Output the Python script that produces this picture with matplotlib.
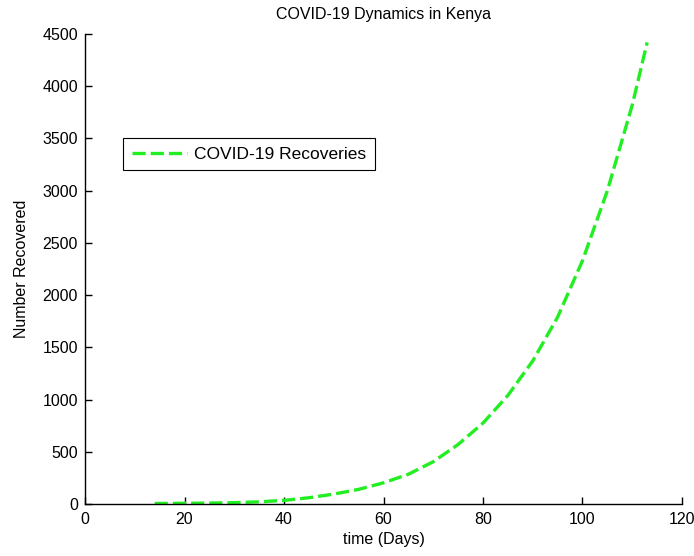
import matplotlib
matplotlib.use("Agg")
import matplotlib.pyplot as plt

# days and recovered counts
days = [14, 20, 25, 30, 35, 40, 45, 50, 55, 60, 65, 70, 75, 80, 85, 90, 95, 100, 105, 110, 113]
recovered = [5, 7, 9, 13, 21, 35, 60, 95, 140, 203, 285, 405, 570, 775, 1040, 1370, 1790,
             2330, 3000, 3820, 4420]
xticks = [0, 20, 40, 60, 80, 100, 120]
yticks = [0, 500, 1000, 1500, 2000, 2500, 3000, 3500, 4000, 4500]

plt.rcParams['font.family'] = ['Liberation Sans', 'DejaVu Sans']
plt.rcParams['lines.scale_dashes'] = False

fig = plt.figure(figsize=(6.94, 5.56), dpi=100)
ax = fig.add_axes([0.1225, 0.0935, 0.8602, 0.8453])

ax.plot(days, recovered, color='#22ee22', linewidth=2.4, dashes=(9.5, 3.6),
        label='COVID-19 Recoveries')

ax.set_xlim(0, 120)
ax.set_ylim(0, 4500)
ax.set_xticks(xticks)
ax.set_yticks(yticks)
ax.tick_params(direction='in', length=5, width=1, labelsize=11.5)
ax.tick_params(axis='x', pad=6)
ax.tick_params(axis='y', pad=5)
ax.spines['top'].set_visible(False)
ax.spines['right'].set_visible(False)
ax.spines['left'].set_linewidth(1)
ax.spines['bottom'].set_linewidth(1)

ax.set_title('COVID-19 Dynamics in Kenya', fontsize=11.5, pad=11)
ax.set_xlabel('time (Days)', fontsize=11.5, labelpad=3)
ax.set_ylabel('Number Recovered', fontsize=11.5, labelpad=10)

leg = ax.legend(loc='upper left', bbox_to_anchor=(0.0637, 0.779), borderaxespad=0,
                fontsize=12.5, fancybox=False, edgecolor='black', framealpha=1,
                handlelength=3.2, handletextpad=0.4, borderpad=0.5)
leg.get_frame().set_linewidth(0.8)

fig.savefig('out.png', dpi=100)
